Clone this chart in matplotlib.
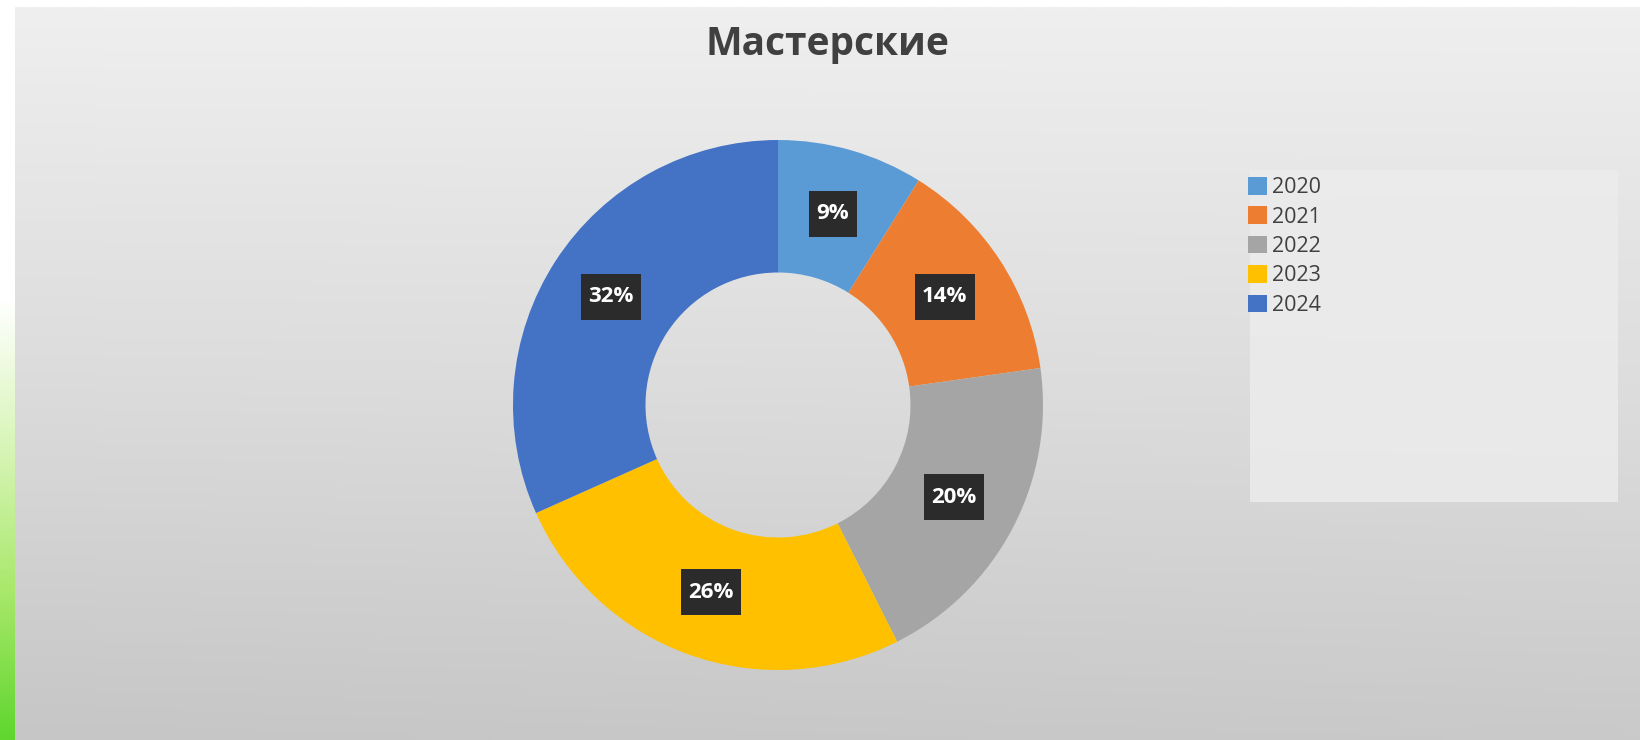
import numpy as np
import matplotlib
matplotlib.use("Agg")
import matplotlib.pyplot as plt
from matplotlib.colors import LinearSegmentedColormap
from matplotlib.patches import Rectangle
from matplotlib.path import Path

# Chart data
title = "Мастерские"
years = ["2020", "2021", "2022", "2023", "2024"]
shares = [9, 14, 20, 26, 32]          # percent
colors = ["#5B9BD5", "#ED7D31", "#A5A5A5", "#FFC000", "#4472C4"]

W, H = 1650, 740
fig = plt.figure(figsize=(W / 100, H / 100), dpi=100, facecolor="white")


def px_box(x0, y0, x1, y1):
    """Figure-fraction rectangle from pixel coordinates (origin top-left)."""
    return [x0 / W, 1 - y1 / H, (x1 - x0) / W, (y1 - y0) / H]


def label_box(x0, y0, width, height, mutation_size):
    """Rectangular label background with separate horizontal / vertical padding."""
    px, py = 0.33 * mutation_size, 0.56 * mutation_size
    x0, y0 = x0 - px, y0 - py
    x1, y1 = x0 + width + 2 * px, y0 + height + 2 * py
    return Path([(x0, y0), (x1, y0), (x1, y1), (x0, y1), (x0, y0)],
                [Path.MOVETO, Path.LINETO, Path.LINETO, Path.LINETO, Path.CLOSEPOLY])


# Gray gradient panel behind the chart
bg = fig.add_axes(px_box(15, 7, 1640, 740))
bg.set_axis_off()
grad_cmap = LinearSegmentedColormap.from_list("panel", ["#efefef", "#dcdcdc", "#c6c6c6"])
yy = np.linspace(0, 1, 256)[:, None]
xx = np.linspace(0, 1, 256)[None, :]
field = 0.92 * yy + 0.08 * (1 - xx) * yy
bg.imshow(field, cmap=grad_cmap, aspect="auto", extent=[0, 1, 1, 0], vmin=0, vmax=1)
bg.set_xlim(0, 1)
bg.set_ylim(1, 0)

# Green accent strip on the left edge
strip = fig.add_axes(px_box(0, 300, 15, 740))
strip.set_axis_off()
green_cmap = LinearSegmentedColormap.from_list("accent", ["#ffffff", "#d8f5b8", "#a8e86a", "#5fd62e"])
strip.imshow(np.linspace(0, 1, 256)[:, None], cmap=green_cmap, aspect="auto", extent=[0, 1, 1, 0])
strip.set_xlim(0, 1)
strip.set_ylim(1, 0)

# Legend backing box
fig.patches.append(Rectangle((1250 / W, 1 - 502 / H), (1618 - 1250) / W, (502 - 170) / H,
                             transform=fig.transFigure, facecolor="#ececec",
                             edgecolor="none", alpha=0.85, zorder=1))

# Doughnut
cx, cy, R = 778, 405, 265
half = 280
ax = fig.add_axes(px_box(cx - half, cy - half, cx + half, cy + half))
ax.set_facecolor("none")
wedges, _ = ax.pie(shares, colors=colors, startangle=90, counterclock=False,
                   wedgeprops=dict(width=0.5, edgecolor="none"))
lim = half / R
ax.set_xlim(-lim, lim)
ax.set_ylim(-lim, lim)
ax.set_aspect("equal")

for w, v in zip(wedges, shares):
    mid = np.deg2rad((w.theta1 + w.theta2) / 2)
    r = 0.75
    ax.text(r * np.cos(mid), r * np.sin(mid), f"{v}%", ha="center", va="center",
            color="white", fontsize=16, fontweight="bold", family="Open Sans",
            bbox=dict(boxstyle=label_box, facecolor="#2b2b2b", edgecolor="none"))

fig.text(827 / W, 1 - 44 / H, title, ha="center", va="center", fontsize=28,
         fontweight="bold", color="#404040", family="Open Sans")

fig.legend(wedges, years, loc="upper left", bbox_to_anchor=(1248 / W, 1 - 177 / H),
           frameon=False, labelcolor="#404040",
           handlelength=0.88, handleheight=0.88, handletextpad=0.25,
           labelspacing=0.38, borderpad=0, borderaxespad=0,
           prop={"family": "Open Sans", "size": 15.5})

fig.savefig("out.png", dpi=100, facecolor="white")
